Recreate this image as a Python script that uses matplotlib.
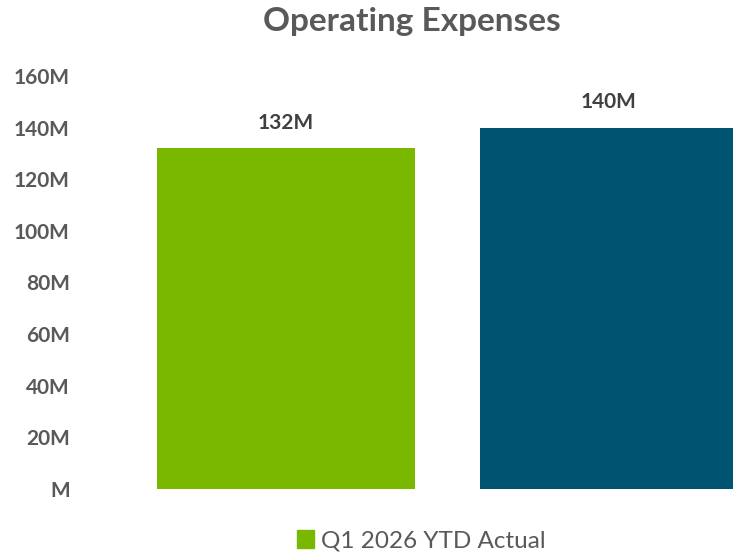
import matplotlib
matplotlib.use("Agg")
import matplotlib.pyplot as plt
from matplotlib.patches import Patch

plt.rcParams['font.family'] = ['Lato', 'DejaVu Sans']

# ---- data ----
categories = ["Q1 2026 YTD Actual", "Q1 2026 YTD Budget"]
values_m = [132, 140]
bar_colors = ["#7AB800", "#005472"]
tick_values = [0, 20, 40, 60, 80, 100, 120, 140, 160]
tick_labels = ["M", "20M", "40M", "60M", "80M", "100M", "120M", "140M", "160M"]

GRAY = "#595959"
DARK = "#404040"
W, H = 733, 554

fig = plt.figure(figsize=(W / 100, H / 100), dpi=100)
# axes in pixel terms: left 92, right 733, bottom 489, top 76
ax = fig.add_axes([92 / W, 1 - 489 / H, (733 - 92) / W, (489 - 76) / H])

x = list(range(len(categories)))
bars = ax.bar(x, values_m, width=0.8, color=bar_colors)
for b, v in zip(bars, values_m):
    ax.text(b.get_x() + b.get_width() / 2, v + 6, f"{v}M", ha="center", va="bottom",
            fontsize=15, fontweight="bold", color=DARK)

ax.set_ylim(0, 160)
ax.set_xlim(-0.6, -0.6 + 641 / 323)
ax.set_yticks(tick_values)
ax.set_yticklabels(tick_labels, fontsize=15, fontweight="bold", color=GRAY)
ax.tick_params(axis="y", length=0, pad=16)
ax.set_xticks([])
for s in ax.spines.values():
    s.set_visible(False)

fig.text(412 / W, 1 - 22 / H, "Operating Expenses", ha="center", va="center",
         fontsize=24, fontweight="bold", color=GRAY)

handles = [Patch(color=bar_colors[0], label=categories[0])]
fig.legend(handles=handles, loc="center", bbox_to_anchor=(421 / W, 1 - 541 / H),
           frameon=False, fontsize=17.5, labelcolor=GRAY, handlelength=0.7,
           handleheight=0.7, handletextpad=0.3, borderpad=0, borderaxespad=0)

fig.savefig("out.png", dpi=100)
